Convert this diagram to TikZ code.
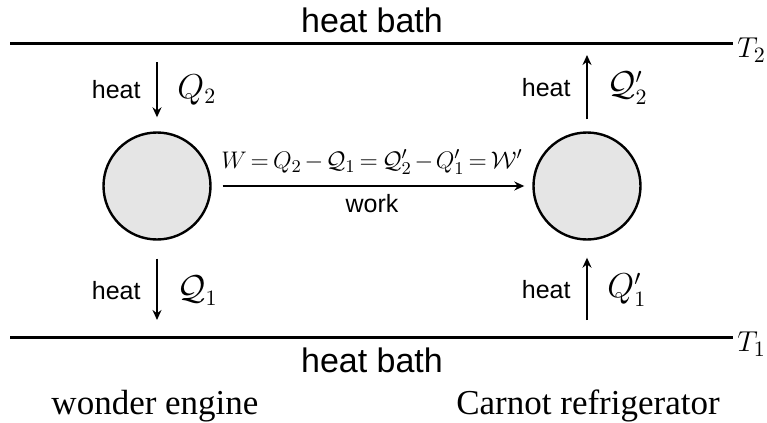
\documentclass[tikz,border=0pt]{standalone}
\usepackage{fontspec}
\setmainfont{Liberation Serif}
\setsansfont{Liberation Sans}
\usetikzlibrary{arrows.meta, positioning}
\tikzset{
    bath/.style={line width=1.5pt},
    engine/.style={circle, draw, line width=1.2pt, fill=gray!20, minimum size=53.5pt, inner sep=0pt},
    arrow/.style={-{Stealth[length=5pt, width=4.5pt]}, line width=0.8pt},
    heatlabel/.style={font=\sffamily\fontsize{12.5}{14}\selectfont},
    bathlabel/.style={font=\sffamily\fontsize{17}{20}\selectfont},
    qlabel/.style={font=\fontsize{16}{18}\selectfont},
    templabel/.style={font=\fontsize{15}{17}\selectfont, inner sep=0.5pt, anchor=west},
    eqlabel/.style={font=\fontsize{13}{15}\selectfont},
    caption/.style={font=\fontsize{17.5}{20}\selectfont},
}
\newcommand{\tightmath}{\medmuskip=2mu\relax\thickmuskip=3mu\relax}
\begin{document}
\begin{tikzpicture}[x=0.5pt, y=-0.5pt]
    \useasboundingbox (0,0) rectangle (767,423);
    % heat baths
    \coordinate (hotL) at (10,43);
    \coordinate (hotR) at (733,43);
    \coordinate (coldL) at (10,337);
    \coordinate (coldR) at (733,337);
    \draw[bath] (hotL) -- (hotR);
    \draw[bath] (coldL) -- (coldR);
    \node[templabel] (hotT) at ([xshift=1.5pt, yshift=-3.5pt]hotR) {$T_2$};
    \node[templabel] (coldT) at ([xshift=1.5pt, yshift=-3.5pt]coldR) {$T_1$};
    \node[bathlabel] (hotbath) at (372,20) {heat bath};
    \node[bathlabel] (coldbath) at (372,360) {heat bath};

    % engine and refrigerator
    \node[engine] (eng) at (157,186) {};
    \node[engine] (fridge) at (587,186) {};

    % heat flows
    \coordinate (engIn) at (157,62);
    \coordinate (engOut) at (157,320);
    \coordinate (frOut) at (587,55);
    \coordinate (frIn) at (587,320);
    \draw[arrow, shorten >=7pt] (engIn) -- (eng.north)
        node[pos=0.4, left=4.5pt, heatlabel] {heat}
        node[pos=0.4, right=6.5pt, qlabel] {$Q_2$};
    \draw[arrow, shorten <=9pt] (eng.south) -- (engOut)
        node[pos=0.63, left=4.5pt, heatlabel] {heat}
        node[pos=0.63, right=6.5pt, qlabel] {$\mathcal{Q}_1$};
    \draw[arrow, shorten <=6pt] (fridge.north) -- (frOut)
        node[pos=0.57, left=4.5pt, heatlabel] {heat}
        node[pos=0.57, right=6.5pt, qlabel] {$\mathcal{Q}'_2$};
    \draw[arrow, shorten >=8.5pt] (frIn) -- (fridge.south)
        node[pos=0.38, left=4.5pt, heatlabel] {heat}
        node[pos=0.38, right=6.5pt, qlabel] {$Q'_1$};

    % work
    \draw[arrow, shorten <=5.5pt, shorten >=4pt] (eng) -- (fridge)
        node[midway, above=2pt, eqlabel] {$\tightmath W = Q_2 - \mathcal{Q}_1 = \mathcal{Q}'_2 - Q'_1 = \mathcal{W}'$}
        node[midway, below=0.5pt, heatlabel] {work};

    \node[caption] (wonder) at (155,406) {wonder engine};
    \node[caption] (carnot) at (588,406) {Carnot refrigerator};
\end{tikzpicture}
\end{document}
